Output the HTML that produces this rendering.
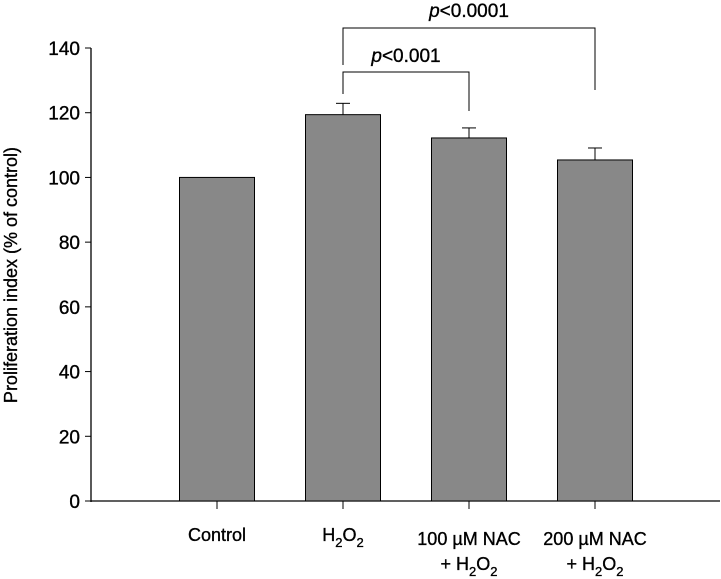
<!DOCTYPE html>
<html><head><meta charset="utf-8"><style>
html,body{margin:0;padding:0;background:#fff;width:721px;height:579px;overflow:hidden}
svg{font-family:"Liberation Sans",Arial,sans-serif}
text{stroke:#000;stroke-width:0.35}
</style></head><body>
<svg width="721" height="579">
<g id="g"></g>
</svg>
<script>
const categories=["Control","H2O2","100 µM NAC + H2O2","200 µM NAC + H2O2"];
const values=[100,119.4,112.2,105.4];
const errors=[0,3.5,3.1,3.7];
const yTicks=[0,20,40,60,80,100,120,140];
const NS="http://www.w3.org/2000/svg";
const g=document.getElementById('g');
const y0=501,y140=48,x0=91,x1=720;
const ys=v=>y0-(v/140)*(y0-y140);
const xs=i=>217+i*126;
const bw=75;
function el(t,a,p){const e=document.createElementNS(NS,t);for(const k in a)e.setAttribute(k,a[k]);(p||g).appendChild(e);return e;}
let ya=el('line',{x1:x0,y1:y140,x2:x0,y2:y0+1,stroke:'#000','stroke-width':1.3});


let xa=el('line',{x1:x0,y1:y0,x2:x1,y2:y0,stroke:'#000','stroke-width':1.3});


yTicks.forEach(t=>{
 const y=ys(t);
 el('line',{x1:x0-6,y1:y,x2:x0,y2:y,stroke:'#000','stroke-width':1});
 const tx=el('text',{x:x0-11,y:y+7,'text-anchor':'end','font-size':19});
 tx.textContent=t;
 
 
});
const yt=el('text',{transform:'translate(17,275) rotate(-90)','text-anchor':'middle','font-size':18,'stroke-width':0.2});
yt.textContent='Proliferation index (% of control)';


values.forEach((v,i)=>{
 const cx=xs(i);
 if(errors[i]>0){
  el('line',{x1:cx,y1:ys(v),x2:cx,y2:ys(v+errors[i]),stroke:'#000','stroke-width':1});
  el('line',{x1:cx-7,y1:ys(v+errors[i]),x2:cx+7,y2:ys(v+errors[i]),stroke:'#000','stroke-width':1});
 }
 const r=el('rect',{x:cx-bw/2,y:ys(v),width:bw,height:y0-ys(v),fill:'#888',stroke:'#000','stroke-width':1});
 
 
 el('line',{x1:cx,y1:y0,x2:cx,y2:y0+8,stroke:'#000','stroke-width':1});
});
function sub(t,parts){parts.forEach(p=>{const s=el('tspan',p.sub?{'font-size':13,dy:6}:{dy:p.dy||0},t);s.textContent=p.t;});}
let t;
t=el('text',{x:xs(0),y:541,'text-anchor':'middle','font-size':18});t.textContent='Control';

t=el('text',{x:xs(1),y:541,'text-anchor':'middle','font-size':18});
sub(t,[{t:'H'},{t:'2',sub:1},{t:'O',dy:-6},{t:'2',sub:1}]);

[2,3].forEach(i=>{
 let a=el('text',{x:xs(i),y:545,'text-anchor':'middle','font-size':18});a.textContent=(i==2?'100':'200')+' µM NAC';
 
 let b=el('text',{x:xs(i),y:570,'text-anchor':'middle','font-size':18});
 sub(b,[{t:'+ H'},{t:'2',sub:1},{t:'O',dy:-6},{t:'2',sub:1}]);
 
});
function bracket(a,b,y,ya2,yb2,label,ty,name){
 const p=el('polyline',{points:`${xs(a)},${ya2} ${xs(a)},${y} ${xs(b)},${y} ${xs(b)},${yb2}`,fill:'none',stroke:'#000','stroke-width':1});
 
 const tx=el('text',{x:(xs(a)+xs(b))/2,y:ty,'text-anchor':'middle','font-size':19});
 const i1=el('tspan',{'font-style':'italic'},tx);i1.textContent='p';
 const i2=el('tspan',{},tx);i2.textContent=label;
 
}
bracket(1,2,72,94,111,'<0.001',62,'bracket-p001');
bracket(1,3,28,65,90,'<0.0001',17,'bracket-p0001');
</script>
</body></html>
